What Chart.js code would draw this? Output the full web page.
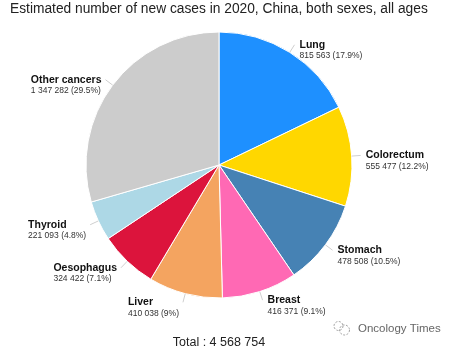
<!DOCTYPE html>
<html>
<head>
<meta charset="utf-8">
<script src="https://cdn.jsdelivr.net/npm/chart.js@4/dist/chart.umd.min.js"></script>
<style>
html,body{margin:0;padding:0;background:#fff;}
canvas{display:block;}
</style>
</head>
<body>
<canvas id="c" width="455" height="351"></canvas>
<script>
const TITLE = "Estimated number of new cases in 2020, China, both sexes, all ages";
const CATEGORIES = ["Lung", "Colorectum", "Stomach", "Breast", "Liver", "Oesophagus", "Thyroid", "Other cancers"];
const VALUES = [815563, 555477, 478508, 416371, 410038, 324422, 221093, 1347282];
const COLORS = ["#1e90ff", "#ffd700", "#4682b4", "#ff69b4", "#f4a460", "#dc143c", "#add8e6", "#cccccc"];
const WATERMARK = "Oncology Times";

const TOTAL = VALUES.reduce((a, b) => a + b, 0);
const fmt = v => String(v).replace(/\B(?=(\d{3})+(?!\d))/g, ' ');
const pct = v => String(parseFloat((v / TOTAL * 100).toFixed(1)));

const FONT = "'Liberation Sans', Arial, sans-serif";

const labelPlugin = {
  id: 'labels',
  afterDraw(chart) {
    const ctx = chart.ctx;
    ctx.save();
    // title, sized to span the same width as in the reference
    ctx.font = '15px ' + FONT;
    const tw = ctx.measureText(TITLE).width;
    const ts = Math.min(15, 15 * 418 / tw);
    ctx.fillStyle = '#222';
    ctx.font = ts.toFixed(2) + 'px ' + FONT;
    ctx.textBaseline = 'alphabetic';
    ctx.textAlign = 'left';
    ctx.fillText(TITLE, 10, 13);

    const meta = chart.getDatasetMeta(0);
    meta.data.forEach((arc, i) => {
      const p = arc.getProps(['x', 'y', 'startAngle', 'endAngle', 'outerRadius'], true);
      const mid = (p.startAngle + p.endAngle) / 2;
      const cos = Math.cos(mid), sin = Math.sin(mid);
      const x0 = p.x + cos * p.outerRadius, y0 = p.y + sin * p.outerRadius;
      const ax = p.x + cos * (p.outerRadius + 9), ay = p.y + sin * (p.outerRadius + 9);
      ctx.strokeStyle = '#cfcfcf';
      ctx.lineWidth = 1;
      ctx.beginPath();
      ctx.moveTo(x0, y0);
      ctx.lineTo(ax, ay);
      ctx.stroke();

      const name = CATEGORIES[i];
      const val = fmt(VALUES[i]) + ' (' + pct(VALUES[i]) + '%)';
      ctx.font = 'bold 10.5px ' + FONT;
      const w1 = ctx.measureText(name).width;
      ctx.font = '8.5px ' + FONT;
      const w2 = ctx.measureText(val).width;
      const w = Math.max(w1, w2);
      const right = cos >= 0;
      const tx = right ? ax + 5 : ax - 4 - w;
      ctx.textAlign = 'left';
      ctx.textBaseline = 'middle';
      ctx.fillStyle = '#111';
      ctx.font = 'bold 10.5px ' + FONT;
      ctx.fillText(name, tx, ay);
      ctx.fillStyle = '#333';
      ctx.font = '8.5px ' + FONT;
      ctx.fillText(val, tx, ay + 11);
    });

    // total
    ctx.fillStyle = '#222';
    ctx.font = '12.5px ' + FONT;
    ctx.textAlign = 'center';
    ctx.textBaseline = 'alphabetic';
    ctx.fillText('Total : ' + fmt(TOTAL), 219, 346);

    // watermark
    ctx.strokeStyle = '#888';
    ctx.lineWidth = 0.8;
    ctx.setLineDash([2, 1.5]);
    ctx.beginPath();
    ctx.arc(338.5, 326, 4.5, 0, Math.PI * 2);
    ctx.stroke();
    ctx.beginPath();
    ctx.arc(344.5, 330, 5, 0, Math.PI * 2);
    ctx.stroke();
    ctx.setLineDash([]);
    ctx.font = '11.5px ' + FONT;
    ctx.textAlign = 'left';
    ctx.textBaseline = 'middle';
    ctx.lineWidth = 2;
    ctx.strokeStyle = 'rgba(255,255,255,0.9)';
    ctx.strokeText(WATERMARK, 358, 329);
    ctx.fillStyle = '#666';
    ctx.fillText(WATERMARK, 358, 329);
    ctx.restore();
  }
};

new Chart(document.getElementById('c'), {
  type: 'pie',
  data: {
    labels: CATEGORIES,
    datasets: [{
      data: VALUES,
      backgroundColor: COLORS,
      borderColor: '#ffffff',
      borderWidth: 1
    }]
  },
  options: {
    responsive: false,
    animation: false,
    radius: 133,
    layout: { padding: { left: 86, right: 103, top: 32, bottom: 53 } },
    plugins: {
      legend: { display: false },
      tooltip: { enabled: false },
      title: { display: false }
    }
  },
  plugins: [labelPlugin]
});
</script>
</body>
</html>
